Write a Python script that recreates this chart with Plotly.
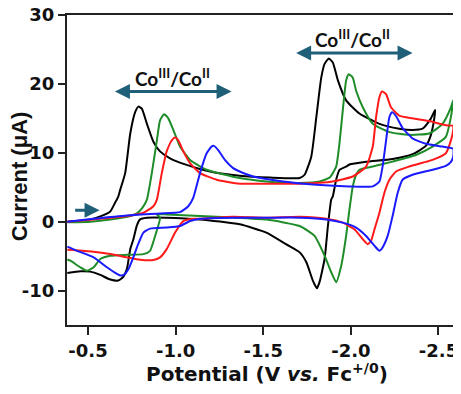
import plotly.graph_objects as go

# ---- data: potential (V vs Fc+/0) and current (uA) ----
black_E = [-0.382, -0.513, -0.570, -0.627, -0.655, -0.672, -0.684, -0.712, -0.741, -0.769, -0.788,
           -0.807, -0.836, -0.873, -0.911, -0.968, -1.063, -1.196, -1.366, -1.537, -1.708, -1.736,
           -1.774, -1.803, -1.831, -1.850, -1.874, -1.897, -1.926, -1.973, -2.049, -2.163, -2.276,
           -2.352, -2.409, -2.457, -2.481,
           -2.476, -2.457, -2.428, -2.352, -2.238, -2.087, -1.992, -1.973, -1.935, -1.916, -1.897,
           -1.888, -1.869, -1.850, -1.821, -1.806, -1.783, -1.746, -1.708, -1.632, -1.518, -1.366,
           -1.139, -0.949, -0.836, -0.797, -0.779, -0.759, -0.741, -0.722, -0.701, -0.672, -0.627,
           -0.570, -0.513, -0.456, -0.382]
black_I = [0.0, 0.33, 0.76, 1.48, 2.78, 3.6, 4.65, 7.05, 12.8, 15.9, 16.7,
           16.4, 14.2, 11.6, 10.2, 9.2, 8.24, 7.28, 6.66, 6.4, 6.33, 6.81,
           9.44, 15.2, 20.9, 22.9, 23.7, 23.1, 20.5, 17.6, 15.7, 14.2, 13.5,
           13.3, 13.5, 15.0, 16.2,
           15.0, 12.6, 11.0, 9.8, 9.1, 8.7, 8.3, 8.0, 7.53, 6.09, 3.68,
           3.21, -0.63, -5.42, -8.78, -9.67, -8.55, -5.90, -4.46, -3.3, -1.58, -0.39,
           0.33, 0.58, 0.58, 0.33, -0.53, -2.55, -3.99, -6.86, -8.01, -8.55, -8.40,
           -7.73, -7.25, -7.2, -7.44]

green_E = [-0.382, -0.513, -0.627, -0.741, -0.779, -0.810, -0.836, -0.864, -0.893, -0.911, -0.934,
           -0.958, -0.987, -1.025, -1.082, -1.177, -1.366, -1.518, -1.708, -1.822, -1.879, -1.916,
           -1.935, -1.954, -1.973, -1.988, -2.011, -2.030, -2.068, -2.125, -2.220, -2.333, -2.447,
           -2.523, -2.571, -2.584,
           -2.571, -2.542, -2.466, -2.371, -2.238, -2.125, -2.049, -2.030, -2.011, -1.992, -1.973,
           -1.945, -1.916, -1.888, -1.850, -1.793, -1.708, -1.518, -1.328, -1.139, -0.949, -0.893,
           -0.911, -0.883, -0.854, -0.816, -0.722, -0.627, -0.570, -0.532, -0.494, -0.456, -0.399,
           -0.382]
green_I = [-0.1, 0.0, 0.3, 0.8, 1.2, 2.0, 3.21, 7.05, 11.8, 14.7, 15.6,
           15.0, 13.3, 10.9, 8.96, 7.53, 6.33, 5.84, 5.61, 5.84, 6.4, 8.0,
           11.4, 16.2, 20.5, 21.4, 20.9, 19.0, 16.6, 14.2, 13.0, 12.6, 12.8,
           14.2, 16.6, 17.6,
           15.2, 12.3, 10.9, 9.68, 8.72, 8.0, 7.53, 6.81, 5.12, 1.77, -2.07,
           -6.39, -8.78, -7.34, -4.95, -2.07, -0.63, 0.3, 0.6, 0.81, 1.05, 1.05,
           0.58, -2.07, -4.23, -4.71, -4.81, -4.95, -5.42, -6.62, -7.11, -6.62, -5.67,
           -5.5]

red_E = [-0.382, -0.532, -0.722, -0.816, -0.873, -0.893, -0.921, -0.949, -0.978, -0.997, -1.015,
         -1.044, -1.082, -1.139, -1.234, -1.366, -1.518, -1.708, -1.897, -2.011, -2.087, -2.125,
         -2.144, -2.163, -2.178, -2.201, -2.229, -2.276, -2.352, -2.447, -2.542, -2.584,
         -2.584, -2.571, -2.542, -2.466, -2.428, -2.333, -2.258, -2.220, -2.191, -2.163, -2.135,
         -2.115, -2.096, -2.068, -2.020, -1.954, -1.860, -1.708, -1.518, -1.328, -1.139, -1.101,
         -1.044, -0.997, -0.949, -0.911, -0.873, -0.797, -0.722, -0.627, -0.532, -0.418, -0.382]
red_I = [0.0, 0.33, 0.81, 1.29, 2.24, 3.21, 7.05, 10.2, 11.8, 12.2, 11.8,
         10.2, 8.49, 7.05, 6.09, 5.51, 5.51, 5.51, 5.84, 6.56, 8.0, 10.9,
         15.2, 18.1, 18.9, 18.5, 16.6, 15.4, 15.0, 14.6, 14.0, 13.9,
         13.3, 11.8, 9.93, 8.96, 8.68, 8.0, 7.28, 6.09, 4.17, 1.29, -1.11,
         -2.79, -3.27, -2.55, -1.11, -0.14, 0.43, 0.72, 0.58, 0.72, 0.43, 0.43,
         0.09, -1.58, -3.99, -5.18, -5.57, -5.53, -5.18, -4.71, -4.37, -4.13, -4.06]

blue_E = [-0.382, -0.532, -0.722, -0.911, -1.025, -1.072, -1.101, -1.139, -1.177, -1.205, -1.218,
          -1.243, -1.281, -1.328, -1.366, -1.442, -1.613, -1.803, -1.992, -2.125, -2.163, -2.181,
          -2.201, -2.220, -2.235, -2.258, -2.295, -2.352, -2.428, -2.523, -2.584,
          -2.584, -2.571, -2.542, -2.466, -2.352, -2.295, -2.267, -2.238, -2.210, -2.181, -2.163,
          -2.135, -2.087, -2.030, -1.954, -1.860, -1.708, -1.518, -1.328, -1.139, -1.082, -1.025,
          -0.949, -0.854, -0.816, -0.786, -0.759, -0.731, -0.703, -0.684, -0.665, -0.608, -0.532,
          -0.437, -0.382]
blue_I = [0.0, 0.43, 0.91, 1.19, 1.38, 2.24, 3.5, 7.05, 9.93, 10.9, 11.0,
          10.4, 8.96, 7.77, 7.28, 6.56, 5.84, 5.37, 5.12, 5.12, 5.84, 8.0,
          11.8, 15.2, 15.9, 15.3, 13.6, 12.1, 11.3, 10.9, 10.6,
          9.44, 8.68, 8.1, 7.53, 6.81, 6.09, 4.17, 0.81, -2.07, -3.74, -4.23,
          -3.51, -2.07, -0.86, -0.14, 0.33, 0.58, 0.58, 0.58, 0.43, 0.09, -0.63,
          -0.86, -1.01, -1.58, -3.27, -5.14, -6.86, -7.73, -7.8, -7.58, -6.62, -5.18,
          -4.23, -3.63]

x_ticks = [-0.5, -1.0, -1.5, -2.0, -2.5]
x_tick_text = ["-0.5", "-1.0", "-1.5", "-2.0", "-2.5"]
y_ticks = [-10, 0, 10, 20, 30]
y_tick_text = ["-10", "0", "10", "20", "30"]
x_title = "Potential (V <i>vs.</i> Fc<sup>+/0</sup>)"
y_title = "Current (μA)"
redox_label = "Co<sup>III</sup>/Co<sup>II</sup>"

series = [
    ("black", black_E, black_I, "#000000"),
    ("green", green_E, green_I, "#1e8c28"),
    ("red", red_E, red_I, "#ff1a1a"),
    ("blue", blue_E, blue_I, "#1a1aff"),
]

fig = go.Figure()
for name, E, I, col in series:
    fig.add_trace(go.Scatter(x=E, y=I, mode="lines", name=name,
                             line=dict(color=col, width=2, shape="spline", smoothing=0.5),
                             showlegend=False, hoverinfo="skip"))

arrow_col = "#1f5f78"
# double-headed arrows and labels
for (x0, x1, yv, xl, yl) in [(-0.645, -1.319, 18.9, -0.98, 21.0),
                              (-1.679, -2.352, 24.5, -2.012, 26.6)]:
    fig.add_annotation(x=x1, y=yv, ax=x0, ay=yv, xref="x", yref="y", axref="x", ayref="y",
                       showarrow=True, arrowhead=2, arrowside="end+start", arrowsize=1,
                       arrowwidth=3, arrowcolor=arrow_col, text="")
    fig.add_annotation(x=xl, y=yl, xref="x", yref="y", showarrow=False,
                       text=redox_label,
                       font=dict(family="Lato, Open Sans, sans-serif", size=19, color="#111111", weight="bold"))
# small start arrow
fig.add_annotation(x=-0.566, y=1.67, ax=-0.418, ay=1.67, xref="x", yref="y", axref="x", ayref="y",
                   showarrow=True, arrowhead=2, arrowsize=1, arrowwidth=3,
                   arrowcolor=arrow_col, text="")

# axis titles
fig.add_annotation(x=0.515, y=0, xref="paper", yref="paper", xanchor="center", yanchor="middle",
                   yshift=-48, showarrow=False, text=x_title,
                   font=dict(family="DejaVu Sans, sans-serif", size=20, color="#111111", weight="bold"))
fig.add_annotation(x=0, y=0.48, xref="paper", yref="paper", xanchor="center", yanchor="middle",
                   xshift=-48, textangle=-90, showarrow=False, text=y_title,
                   font=dict(family="Liberation Sans Narrow, Arial Narrow, Liberation Sans, sans-serif",
                             size=22, color="#111111", weight="bold"))

axis_font = dict(family="DejaVu Sans, sans-serif", size=18, color="#111111", weight="bold")
# the page body adds an 8 px offset, so the figure is drawn 8 px smaller
fig.update_layout(
    width=453, height=386,
    margin=dict(l=59, r=5, t=7, b=69),
    paper_bgcolor="white", plot_bgcolor="white",
    xaxis=dict(range=[-0.38, -2.6], tickvals=x_ticks, ticktext=x_tick_text,
               ticks="outside", ticklen=8, tickwidth=2, tickcolor="#222",
               showline=True, linewidth=2, linecolor="#222", mirror=True,
               showgrid=False, zeroline=False, tickfont=axis_font, automargin=False,
               ticklabeloverflow="allow"),
    yaxis=dict(range=[-15, 30], tickvals=y_ticks, ticktext=y_tick_text,
               ticks="outside", ticklen=7, tickwidth=2, tickcolor="#222",
               showline=True, linewidth=2, linecolor="#222", mirror=True,
               showgrid=False, zeroline=False, tickfont=axis_font, automargin=False,
               ticklabeloverflow="allow"),
)

fig.write_html("out.html")
